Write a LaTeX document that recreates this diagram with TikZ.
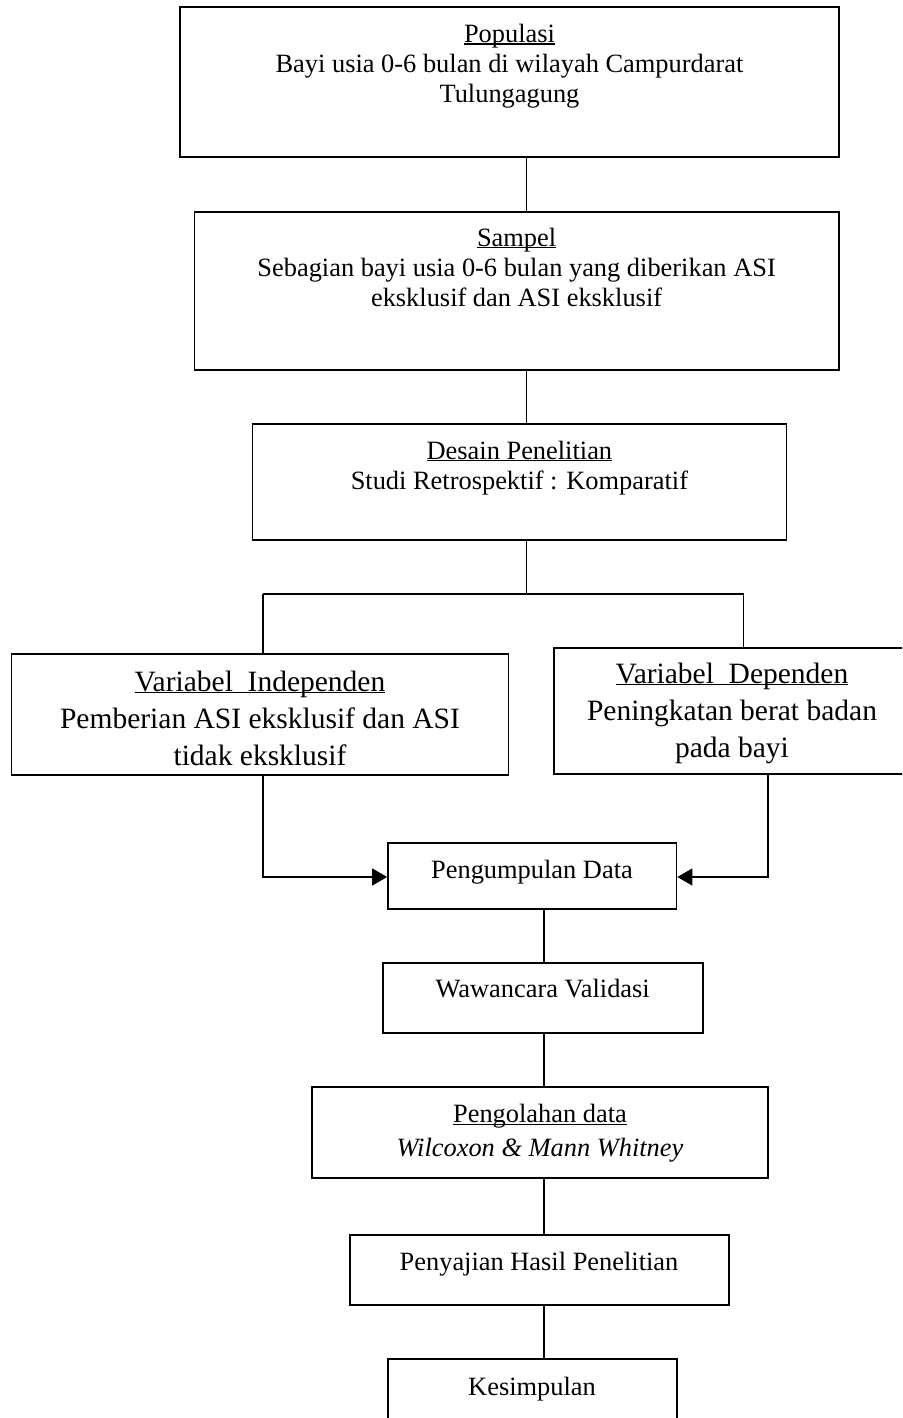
\documentclass[tikz,border=0pt]{standalone}
\usepackage{fontspec}
\setmainfont{Liberation Serif}
\usetikzlibrary{arrows.meta,fit}
\newcommand\ulx[1]{\setbox0\hbox{#1}\rlap{\rule[-1.1pt]{\wd0}{0.55pt}}\box0}
\begin{document}
\begin{tikzpicture}[x=0.5pt,y=-0.5pt,
  box/.style={draw, line width=0.85pt, inner sep=0pt, rectangle},
  txt/.style={anchor=base, align=center, font=\fontsize{13.2}{15}\selectfont, inner sep=0pt},
  big/.style={font=\fontsize{14.75}{18.5}\selectfont},
  conn/.style={line width=0.75pt},
  arr/.style={conn, -{Triangle[length=7.5pt,width=8.5pt]}}]
\useasboundingbox (0,0) rectangle (902,1418);
\clip (0,0) rectangle (902,1418);
% boxes
\node[box, fit={(180.3,7.3) (838.7,157.3)}] (pop) {};
\node[box, fit={(194.5,211.7) (838.7,370)}] (samp) {};
\node[box, fit={(252.5,424) (786.4,540)}] (des) {};
\node[box, fit={(11.5,654) (508.5,774.7)}] (indep) {};
\node[box, fit={(554,648) (912,774.3)}] (dep) {};
\node[box, fit={(388,842.7) (676.5,909)}] (kum) {};
\node[box, fit={(382.7,962.7) (702.7,1033.3)}] (waw) {};
\node[box, fit={(312,1087.3) (768,1178.3)}] (olah) {};
\node[box, fit={(350,1235) (728.7,1305)}] (saji) {};
\node[box, fit={(388,1359.3) (676.7,1430)}] (simp) {};
% texts (base anchor = baseline of the last line)
\node[txt] (popt) at (509.5,102.3) {\ulx{Populasi}\\Bayi usia 0-6 bulan di wilayah Campurdarat\\Tulungagung};
\node[txt] (sampt) at (516.6,306) {\ulx{Sampel}\\Sebagian bayi usia 0-6 bulan yang diberikan ASI\\eksklusif dan ASI eksklusif};
\node[txt] (dest) at (519.4,489) {\ulx{Desain Penelitian}\\Studi Retrospektif : Komparatif};
\node[txt,big] (indept) at (260,765) {\ulx{Variabel\ \ Independen}\\Pemberian ASI eksklusif dan ASI\\tidak eksklusif};
\node[txt,big] (dept) at (732,757) {\ulx{Variabel\ \ Dependen}\\Peningkatan berat badan\\pada bayi};
\node[txt] (kumt) at (532,878) {Pengumpulan Data};
\node[txt] (wawt) at (542.7,997) {Wawancara Validasi};
\node[txt, font=\fontsize{13.2}{17}\selectfont] (olaht) at (540,1156.7) {\ulx{Pengolahan data}\\\textit{Wilcoxon \& Mann Whitney}};
\node[txt] (sajit) at (539,1270) {Penyajian Hasil Penelitian};
\node[txt] (simpt) at (532,1395) {Kesimpulan};
% connector coordinates
\coordinate (xa) at (526.5,0);
\coordinate (xb) at (544,0);
\coordinate (hl) at (263,594);
\coordinate (hr) at (743.6,594);
\coordinate (al) at (263,877);
\coordinate (ar) at (768,877);
% connectors
\draw[conn] (pop.south -| xa) -- (samp.north -| xa);
\draw[conn] (samp.south -| xa) -- (des.north -| xa);
\draw[conn] (des.south -| xa) -- (hl -| xa);
\draw[conn] (hl) -- (hr);
\draw[conn] (hl) -- (indep.north -| hl);
\draw[conn] (hr) -- (dep.north -| hr);
\draw[arr] (indep.south -| al) -- (al) -- (kum.west |- al);
\draw[arr] (dep.south -| ar) -- (ar) -- (kum.east |- ar);
\draw[conn] (kum.south -| xb) -- (waw.north -| xb);
\draw[conn] (waw.south -| xb) -- (olah.north -| xb);
\draw[conn] (olah.south -| xb) -- (saji.north -| xb);
\draw[conn] (saji.south -| xb) -- (simp.north -| xb);
\end{tikzpicture}
\end{document}
